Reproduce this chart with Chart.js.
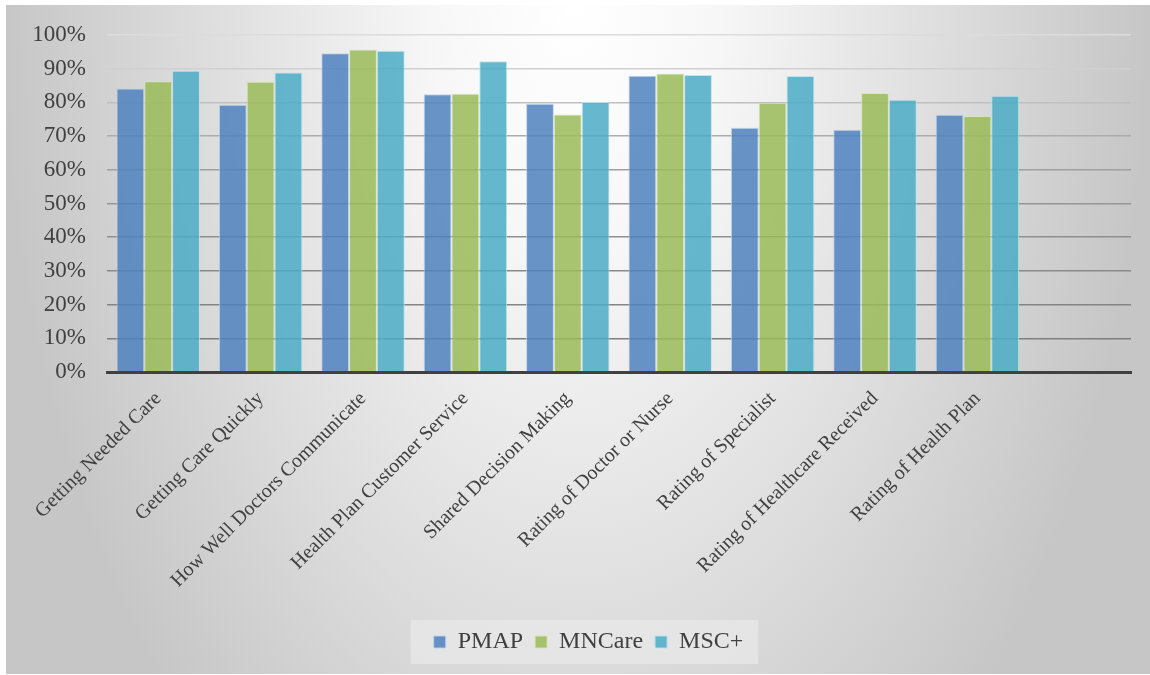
<!DOCTYPE html>
<html>
<head>
<meta charset="utf-8">
<script src="https://cdn.jsdelivr.net/npm/chart.js@4.4.1/dist/chart.umd.min.js"></script>
<style>
  html, body { margin: 0; padding: 0; background: #ffffff; }
  #wrap { position: relative; width: 1150px; height: 675px; }
  canvas { display: block; }
</style>
</head>
<body>
<div id="wrap"><canvas id="c" width="1150" height="675"></canvas></div>
<script>
const categories = [
  'Getting Needed Care',
  'Getting Care Quickly',
  'How Well Doctors Communicate',
  'Health Plan Customer Service',
  'Shared Decision Making',
  'Rating of Doctor or Nurse',
  'Rating of Specialist',
  'Rating of Healthcare Received',
  'Rating of Health Plan',
  ''
];
const seriesNames = ['PMAP', 'MNCare', 'MSC+'];
const pmap   = [0.841, 0.793, 0.946, 0.824, 0.796, 0.879, 0.725, 0.719, 0.763, null];
const mncare = [0.863, 0.861, 0.957, 0.826, 0.764, 0.886, 0.799, 0.828, 0.760, null];
const mscPlus= [0.894, 0.889, 0.953, 0.922, 0.801, 0.881, 0.878, 0.808, 0.820, null];
const yTicks = [0, 0.1, 0.2, 0.3, 0.4, 0.5, 0.6, 0.7, 0.8, 0.9, 1.0];

const FONT = "'Liberation Serif', 'Times New Roman', serif";
const gridColors = ['rgba(0,0,0,0)', '#7f7f7f', '#848484', '#898989', '#8f8f8f', '#969696', '#9f9f9f', '#acacac', '#bfbfbf', '#d0d0d0', '#dcdcdc'];

const bgPlugin = {
  id: 'bgPlugin',
  afterLayout(chart) {
    const lg = chart.legend;
    if (lg) { lg.left += 23; lg.right += 23; }
  },
  beforeDraw(chart) {
    const ctx = chart.ctx;
    ctx.save();
    ctx.fillStyle = '#ffffff';
    ctx.fillRect(0, 0, chart.width, chart.height);
    ctx.beginPath();
    ctx.rect(6, 5, chart.width - 6, chart.height - 6);
    ctx.clip();
    ctx.translate(575, 5);
    ctx.scale(1, 1.7);
    const g = ctx.createRadialGradient(0, 0, 0, 0, 0, 575);
    g.addColorStop(0, '#ffffff');
    g.addColorStop(0.25, '#f7f7f7');
    g.addColorStop(1, '#c6c6c6');
    ctx.fillStyle = g;
    ctx.fillRect(-600, -10, 1200, 500);
    ctx.restore();

    // legend background box
    const lg = chart.legend;
    if (lg && lg.legendHitBoxes && lg.legendHitBoxes.length) {
      let l = Infinity, r = -Infinity, t = Infinity, b = -Infinity;
      lg.legendHitBoxes.forEach(h => {
        l = Math.min(l, h.left); r = Math.max(r, h.left + h.width);
        t = Math.min(t, h.top); b = Math.max(b, h.top + h.height);
      });
      ctx.save();
      ctx.fillStyle = 'rgba(232,232,232,0.75)';
      ctx.fillRect(l - 23, t - 10, (r - l) + 23 + 15, (b - t) + 20);
      ctx.restore();
    }
  }
};

const mk = (label, data, fill, border) => ({
  label, data,
  backgroundColor: fill,
  borderColor: border,
  borderWidth: 1,
  categoryPercentage: 0.815,
  barPercentage: 1.0
});

new Chart(document.getElementById('c'), {
  type: 'bar',
  data: {
    labels: categories,
    datasets: [
      mk(seriesNames[0], pmap,    'rgba(79,129,189,0.85)', 'rgba(190,210,235,0.9)'),
      mk(seriesNames[1], mncare,  'rgba(155,187,89,0.85)', 'rgba(215,230,185,0.9)'),
      mk(seriesNames[2], mscPlus, 'rgba(75,172,198,0.85)', 'rgba(185,225,235,0.9)')
    ]
  },
  options: {
    responsive: false,
    animation: false,
    layout: { padding: { top: 35, right: 19, bottom: 11, left: 0 } },
    plugins: {
      legend: {
        position: 'bottom',
        labels: {
          font: { family: FONT, size: 24 },
          color: '#404040',
          boxWidth: 12,
          boxHeight: 12,
          padding: 12
        }
      },
      tooltip: { enabled: false },
      title: { display: false }
    },
    scales: {
      x: {
        grid: { display: false, drawTicks: false },
        border: { display: true, color: '#404040', width: 3 },
        ticks: {
          font: { family: FONT, size: 20 },
          color: '#404040',
          minRotation: 45,
          maxRotation: 45,
          autoSkip: false,
          padding: 15
        },
        afterFit(scale) { scale.height = 246; }
      },
      y: {
        min: 0, max: 1,
        afterBuildTicks(scale) { scale.ticks = yTicks.map(v => ({ value: v })); },
        grid: {
          drawTicks: false,
          lineWidth: 1.5,
          color: (ctx) => gridColors[ctx.index] || '#999999'
        },
        border: { display: false },
        ticks: {
          font: { family: FONT, size: 23 },
          color: '#404040',
          padding: 21,
          callback: (v) => Math.round(v * 100) + '%'
        },
        afterFit(scale) { scale.width = 107; }
      }
    }
  },
  plugins: [bgPlugin]
});
</script>
</body>
</html>
